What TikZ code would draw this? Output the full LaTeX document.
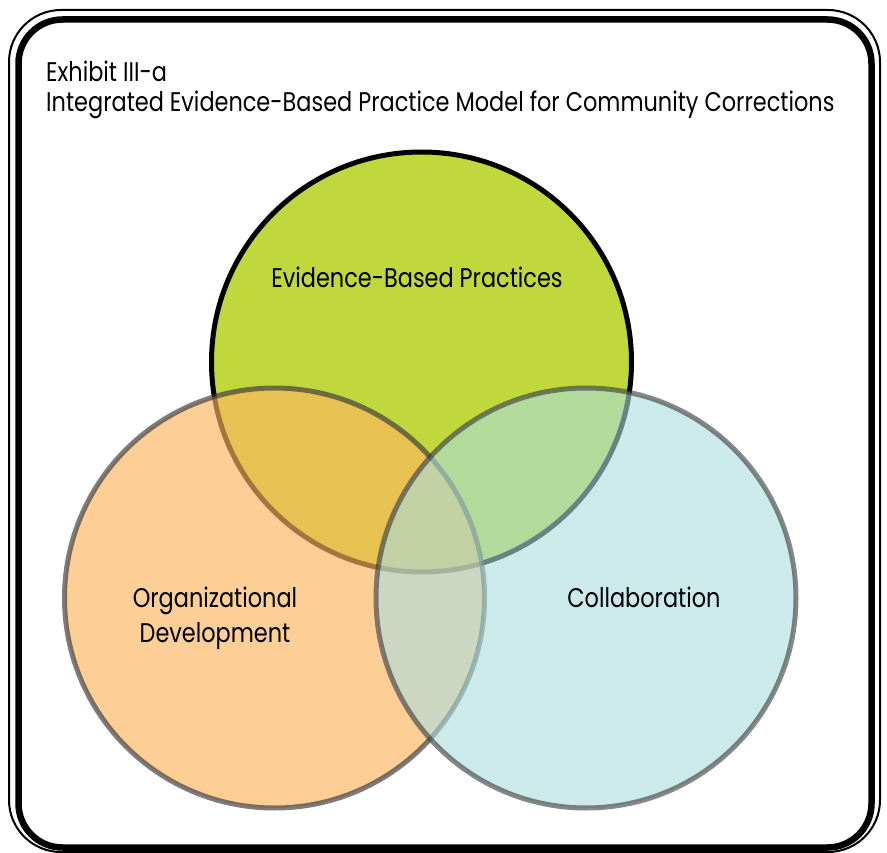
\documentclass[tikz,border=0pt]{standalone}
\usepackage{fontspec}
\setmainfont{Poppins}[FakeStretch=0.83]
\usetikzlibrary{positioning}
\definecolor{ebpgreen}{RGB}{192,216,59}
\definecolor{orgorange}{RGB}{252,181,94}
\definecolor{collblue}{RGB}{170,220,220}
\definecolor{vennline}{RGB}{55,55,60}

\begin{document}
\begin{tikzpicture}[x=1pt, y=1pt,
	venn/.style={circle, minimum size=420pt, line width=5pt, inner sep=0pt},
	vlabel/.style={font=\fontsize{27}{35}\selectfont, inner sep=0pt}]
	\useasboundingbox (0,0) rectangle (887,-853);
	
	\draw[line width=2pt, rounded corners=52pt] (9,-10) rectangle (880,-852);
	\draw[line width=6.5pt, rounded corners=44pt] (18.5,-19.5) rectangle (871.5,-847.5);
	
	\node[vlabel, anchor=base west] (exhibit) at (46,-82) {Exhibit III-a};
	\node[vlabel, anchor=base west] (caption) at (46,-112) {Integrated Evidence-Based Practice Model for Community Corrections};
	
	\node[venn, draw=black, fill=ebpgreen] (ebp) at (421.5,-362) {};
	\node[venn, on grid, below left=236pt and 147pt of ebp, draw=vennline, fill=orgorange, fill opacity=.65, draw opacity=.65] (org) {};
	\node[venn, on grid, below right=236pt and 164.5pt of ebp, draw=vennline, fill=collblue, fill opacity=.6, draw opacity=.6] (coll) {};
	
	\node[vlabel, anchor=base] (ebpc) at (417,-288) {Evidence-Based Practices};
	\node[vlabel, anchor=base] (orgc) at (215,-607) {Organizational};
	\node[vlabel, anchor=base] (orgc2) at (215,-642) {Development};
	\node[vlabel, anchor=base] (collc) at (644,-607) {Collaboration};
\end{tikzpicture}
\end{document}
